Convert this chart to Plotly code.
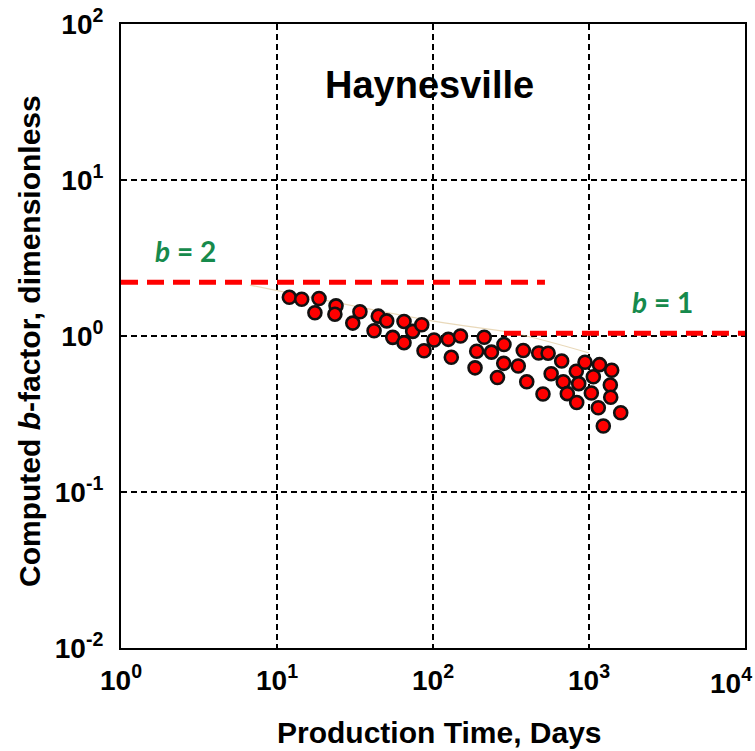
import plotly.graph_objects as go

# Data
days = [12.0, 14.4, 18.6, 17.5, 23.9, 23.5, 34.0, 30.6, 44.6, 50.5, 41.9, 65.2,
        74.1, 84.7, 55.2, 65.2, 87.6, 101.5, 125.4, 150, 131, 213, 190.6, 237,
        186, 259, 285, 284, 379, 352, 399, 476, 547, 572, 507, 668, 684, 726,
        829, 859, 834, 943, 1066, 1035, 1168, 1147, 1398, 1370, 1378, 1235, 1597]
bfac = [1.77, 1.72, 1.74, 1.41, 1.56, 1.38, 1.43, 1.21, 1.34, 1.25, 1.08, 1.24,
        1.07, 1.18, 0.98, 0.906, 0.805, 0.943, 0.952, 1.0, 0.73, 0.982, 0.798, 0.788,
        0.625, 0.542, 0.882, 0.668, 0.807, 0.642, 0.509, 0.778, 0.776, 0.573, 0.425, 0.691, 0.509, 0.427,
        0.595, 0.495, 0.375, 0.679, 0.548, 0.431, 0.655, 0.347, 0.603, 0.485, 0.405, 0.265, 0.322]

trend_x = [6.7, 105.6, 326, 1000]
trend_y = [2.12, 1.235, 1.045, 0.778]

b2_x = [1, 522]
b2_y = [2.21, 2.21]
b1_x = [285, 10000]
b1_y = [1.04, 1.04]

x_tickvals = [1, 10, 100, 1000, 10000]
x_ticktext = ["10<sup>0</sup>", "10<sup>1</sup>", "10<sup>2</sup>", "10<sup>3</sup>", ""]
x_last_label = "10<sup>4</sup>"
y_tickvals = [0.01, 0.1, 1, 10, 100]
y_ticktext = ["10<sup>-2</sup>", "10<sup>-1</sup>", "10<sup>0</sup>", "10<sup>1</sup>", "10<sup>2</sup>"]

FONT = "Liberation Sans, Arial, sans-serif"
GREEN = "#168a4c"

fig = go.Figure()
fig.add_trace(go.Scatter(x=trend_x, y=trend_y, mode="lines", line_shape="spline",
                         line=dict(color="rgba(215,185,130,0.55)", width=1.2),
                         hoverinfo="skip", showlegend=False))
fig.add_trace(go.Scatter(x=b2_x, y=b2_y, mode="lines",
                         line=dict(color="#ff0000", width=5, dash="17px,9px"),
                         showlegend=False))
fig.add_trace(go.Scatter(x=b1_x, y=b1_y, mode="lines",
                         line=dict(color="#ff0000", width=5, dash="17px,9px"),
                         showlegend=False))
fig.add_trace(go.Scatter(x=days, y=bfac, mode="markers",
                         marker=dict(color="#ff0000", size=13,
                                     line=dict(color="#111111", width=2.6)),
                         showlegend=False))

axis_common = dict(
    type="log",
    showline=True, linecolor="black", linewidth=2, mirror=True,
    showgrid=True, gridcolor="black", gridwidth=1.5, griddash="6px,4px",
    zeroline=False, ticks="", automargin=False, ticklabeloverflow="allow",
    tickfont=dict(family=FONT, size=28, color="black", weight="bold"),
)

fig.update_layout(
    width=755, height=751,
    margin=dict(l=121, r=10, t=24, b=103),
    paper_bgcolor="white", plot_bgcolor="white",
    xaxis=dict(range=[0, 4], tickvals=x_tickvals, ticktext=x_ticktext,
               ticklabelstandoff=6, **axis_common),
    yaxis=dict(range=[-2, 2], tickvals=y_tickvals, ticktext=y_ticktext,
               ticklabelstandoff=10, **axis_common),
    annotations=[
        dict(text=x_last_label, xref="paper", yref="paper", x=1.0145, y=-0.0528,
             xanchor="right", yanchor="middle", showarrow=False,
             font=dict(family=FONT, size=28, color="black", weight="bold")),
        dict(text="Haynesville", xref="paper", yref="paper", x=0.495, y=0.902,
             xanchor="center", yanchor="middle", showarrow=False,
             font=dict(family=FONT, size=38, color="black", weight="bold")),
        dict(text="<i>b</i> = 2", xref="paper", yref="paper", x=0.104, y=0.636,
             xanchor="center", yanchor="middle", showarrow=False,
             font=dict(family="Lato, sans-serif", size=28, color=GREEN, weight="bold")),
        dict(text="<i>b</i> = 1", xref="paper", yref="paper", x=0.867, y=0.554,
             xanchor="center", yanchor="middle", showarrow=False,
             font=dict(family="Lato, sans-serif", size=28, color=GREEN, weight="bold")),
        dict(text="Production Time, Days", xref="paper", yref="paper", x=0.511, y=-0.136,
             xanchor="center", yanchor="middle", showarrow=False,
             font=dict(family=FONT, size=30, color="black", weight="bold")),
        dict(text="Computed <i>b</i>-factor, dimensionless", xref="paper", yref="paper",
             x=-0.1458, y=0.492, xanchor="center", yanchor="middle", showarrow=False,
             textangle=-90,
             font=dict(family=FONT, size=30, color="black", weight="bold")),
    ],
)

fig.write_html("out.html")
